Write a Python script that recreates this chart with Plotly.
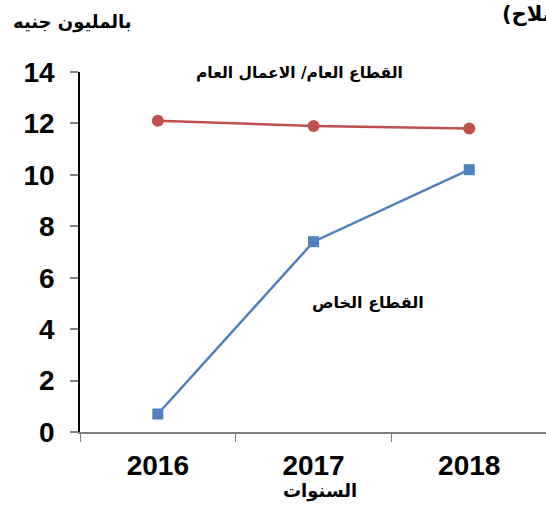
import plotly.graph_objects as go

years = ["2016", "2017", "2018"]
public_sector = [12.1, 11.9, 11.8]
private_sector = [0.7, 7.4, 10.2]
y_ticks = [0, 2, 4, 6, 8, 10, 12, 14]

RED = "#C0504D"
BLUE = "#4F81BD"
FONT = "Liberation Sans, Arial, sans-serif"
AFONT = "DejaVu Sans, sans-serif"

fig = go.Figure()
fig.add_trace(go.Scatter(x=years, y=public_sector, mode="lines+markers",
                         line=dict(color=RED, width=2.5),
                         marker=dict(symbol="circle", size=12, color=RED),
                         name="القطاع العام/ الاعمال العام"))
fig.add_trace(go.Scatter(x=years, y=private_sector, mode="lines+markers",
                         line=dict(color=BLUE, width=2.5),
                         marker=dict(symbol="square", size=11, color=BLUE),
                         name="القطاع الخاص"))

fig.update_layout(
    width=546, height=505,
    margin=dict(l=80, r=0, t=72, b=73),
    plot_bgcolor="white", paper_bgcolor="white",
    showlegend=False,
    font=dict(family=FONT, color="black"),
    xaxis=dict(type="category", range=[-0.5, 2.493], tickson="boundaries",
               tickvals=years, ticktext=["<b>%s</b>" % y for y in years],
               ticks="outside", ticklen=8, tickcolor="#808080",
               showline=True, linecolor="#808080", linewidth=1.5,
               showgrid=False, zeroline=False,
               tickfont=dict(size=28, family=FONT),
               ticklabelstandoff=8),
    yaxis=dict(range=[0, 14], tickvals=y_ticks, ticktext=["<b>%d</b>" % v for v in y_ticks],
               ticks="outside", ticklen=8, tickcolor="#808080", tickwidth=1.5,
               showline=True, linecolor="black", linewidth=1.5,
               showgrid=False, zeroline=False,
               tickfont=dict(size=28, family=FONT),
               ticklabelstandoff=10),
)

fig.add_annotation(xref="paper", yref="paper", x=-0.017, y=1.139, xanchor="center", yanchor="middle",
                   text="<b>بالمليون جنيه</b>", showarrow=False, font=dict(size=18, family=AFONT))
fig.add_annotation(xref="paper", yref="paper", x=0.901, y=1.161, xanchor="left", yanchor="middle",
                   text="<b>(إصلاح)</b>", showarrow=False, font=dict(size=21, family=AFONT))
fig.add_annotation(xref="paper", yref="paper", x=0.47, y=0.997, xanchor="center", yanchor="middle",
                   text="<b>القطاع العام/ الاعمال العام</b>", showarrow=False, font=dict(size=15.5, family=AFONT))
fig.add_annotation(xref="paper", yref="paper", x=0.618, y=0.361, xanchor="center", yanchor="middle",
                   text="<b>القطاع الخاص</b>", showarrow=False, font=dict(size=16, family=AFONT))
fig.add_annotation(xref="paper", yref="paper", x=0.515, y=-0.164, xanchor="center", yanchor="middle",
                   text="<b>السنوات</b>", showarrow=False, font=dict(size=18, family=AFONT))

fig.write_html("out.html", config={"displayModeBar": False},
               post_script="document.body.style.margin='0';")
